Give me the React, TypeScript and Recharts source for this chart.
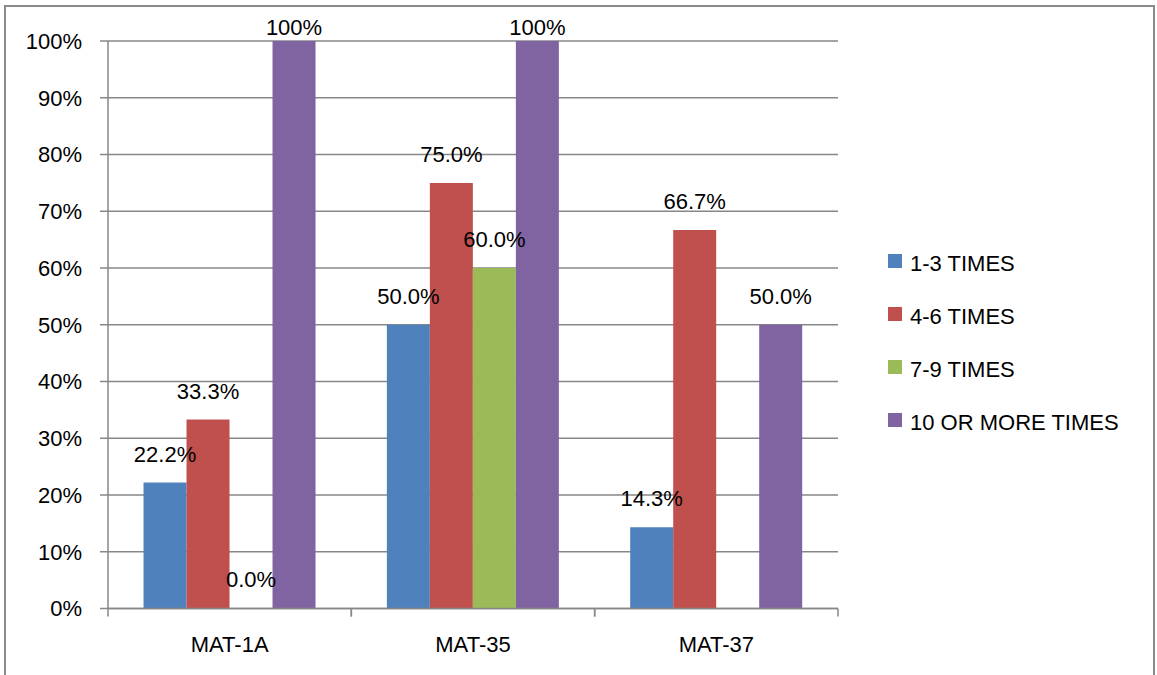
import React from "react";
import { BarChart, Bar, XAxis, YAxis, CartesianGrid, Legend } from "recharts";

const categories = ["MAT-1A", "MAT-35", "MAT-37"];
const times1to3 = [0.222, 0.5, 0.143];
const times4to6 = [0.333, 0.75, 0.667];
const times7to9: (number | null)[] = [0, 0.6, null];
const times10plus = [1, 1, 0.5];
const seriesNames = ["1-3 TIMES", "4-6 TIMES", "7-9 TIMES", "10 OR MORE TIMES"];
const seriesKeys = ["s1", "s2", "s3", "s4"];
const seriesColors = ["#4F81BD", "#C0504D", "#9BBB59", "#8064A2"];
const yTicks = [0, 0.1, 0.2, 0.3, 0.4, 0.5, 0.6, 0.7, 0.8, 0.9, 1];

const data = categories.map((c, i) => ({
  cat: c,
  s1: times1to3[i],
  s2: times4to6[i],
  s3: times7to9[i],
  s4: times10plus[i],
}));

const FONT = "'Liberation Sans', Arial, sans-serif";
const AXIS_COLOR = "#878787";

const fmtLabel = (v: number) => (v === 1 ? "100%" : (v * 100).toFixed(1) + "%");

const renderLabel = (props: any) => {
  const { x, y, width, value } = props;
  if (value === null || value === undefined) return null;
  const baseline = Math.max(Number(y) - 21, 35);
  return (
    <text
      key={`${x}-${y}`}
      x={Number(x) + Number(width) / 2}
      y={baseline}
      textAnchor="middle"
      fontSize={22}
      fontFamily={FONT}
      fill="#000"
    >
      {fmtLabel(Number(value))}
    </text>
  );
};

const XTick = (props: any) => {
  const { x, y, payload } = props;
  const half = payload && typeof payload.offset === "number" && payload.offset > 0 ? payload.offset : 730 / 6;
  const axisY = y - 28;
  return (
    <g>
      <line x1={x - half} x2={x - half} y1={axisY} y2={axisY + 8} stroke={AXIS_COLOR} strokeWidth={1.5} />
      <line x1={x + half} x2={x + half} y1={axisY} y2={axisY + 8} stroke={AXIS_COLOR} strokeWidth={1.5} />
      <text x={x} y={y} dy="0.71em" textAnchor="middle" fontSize={22} fontFamily={FONT} fill="#000">
        {payload.value}
      </text>
    </g>
  );
};

const LegendContent = () => {
  const items = seriesNames.map((n, i) => ({ name: n, color: seriesColors[i] }));
  return (
    <div style={{ fontFamily: FONT, fontSize: 22, color: "#000" }}>
      {items.map((it) => (
        <div
          key={it.name}
          style={{ display: "flex", alignItems: "center", height: 53, whiteSpace: "nowrap" }}
        >
          <span
            style={{
              display: "inline-block",
              width: 14,
              height: 14,
              background: it.color,
              marginRight: 8,
              marginBottom: 5,
            }}
          />
          <span>{it.name}</span>
        </div>
      ))}
    </div>
  );
};

export default function App() {
  return (
    <div style={{ position: "absolute", left: 0, top: 0, width: 1157, height: 675, background: "#fff", overflow: "hidden" }}>
      <div
        style={{
          position: "absolute",
          left: 4,
          top: 5,
          width: 1151,
          height: 700,
          border: "2px solid #8a8a8a",
          boxSizing: "border-box",
        }}
      />
      <div style={{ position: "absolute", left: 0, top: 0 }}>
        <BarChart
          width={1157}
          height={675}
          data={data}
          margin={{ top: 41, right: 319, left: 8, bottom: 26.5 }}
          barCategoryGap="14.6%"
          barGap={0}
        >
          <CartesianGrid vertical={false} stroke={AXIS_COLOR} strokeWidth={1.5} />
          <XAxis
            dataKey="cat"
            height={40}
            tickLine={false}
            tickSize={8}
            tickMargin={20}
            axisLine={{ stroke: AXIS_COLOR, strokeWidth: 1.5 }}
            tick={<XTick />}
            interval={0}
          />
          <YAxis
            width={100}
            domain={[0, 1]}
            ticks={yTicks}
            interval={0}
            tickFormatter={(v: number) => Math.round(v * 100) + "%"}
            tickSize={8}
            tickMargin={18}
            tickLine={{ stroke: AXIS_COLOR, strokeWidth: 1.5 }}
            axisLine={{ stroke: AXIS_COLOR, strokeWidth: 1.5 }}
            tick={{ fontSize: 22, fontFamily: FONT, fill: "#000" }}
          />
          <Legend
            layout="vertical"
            align="center"
            verticalAlign="middle"
            wrapperStyle={{ left: 888, top: 237, width: 260 }}
            content={<LegendContent />}
          />
          {seriesKeys.map((k, i) => (
            <Bar
              key={k}
              dataKey={k}
              name={seriesNames[i]}
              fill={seriesColors[i]}
              isAnimationActive={false}
              minPointSize={0.01}
              label={renderLabel}
            />
          ))}
        </BarChart>
      </div>
    </div>
  );
}
